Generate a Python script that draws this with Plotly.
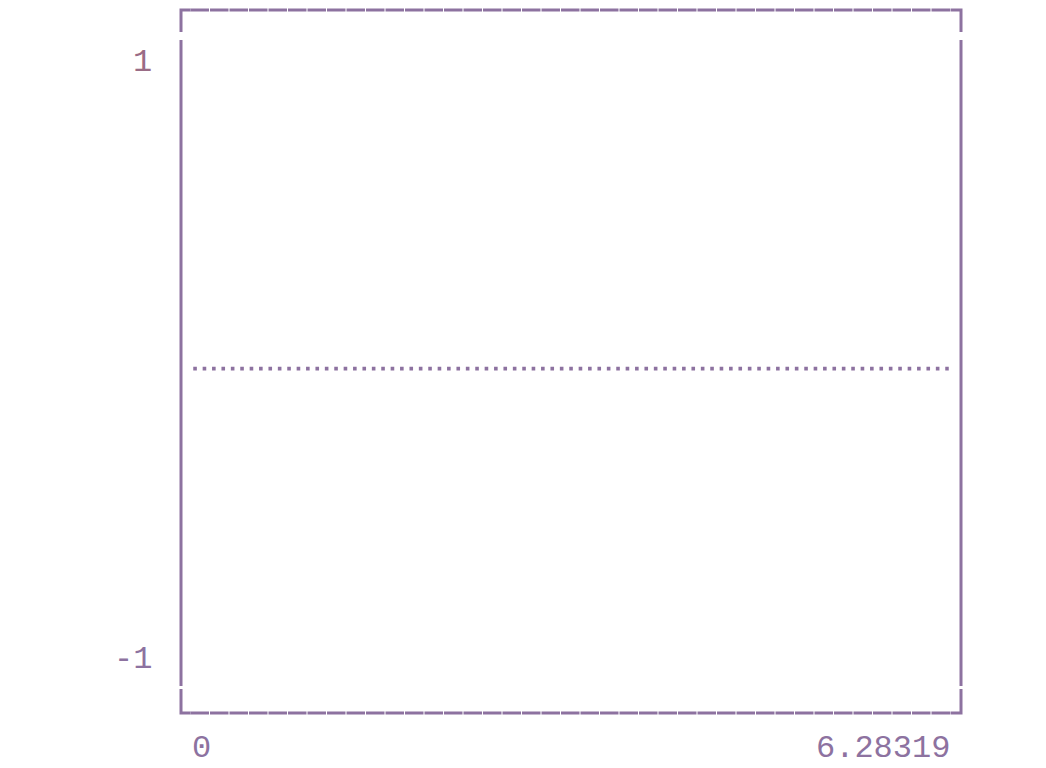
import plotly.graph_objects as go

# line data (value is flat zero over one period)
x_vals = [0, 6.28319]
y_vals = [0, 0]

x_tick_labels = ["0", "6.28319"]
y_tick_vals = [1, -1]
y_tick_labels = ["1", "-1"]

purple = "#8d72a0"
red_purple = "#9a6c86"
mono = "Liberation Mono"

# page body has an 8px margin, so work in page pixels minus 8
OFF = 8
W, H = 1030, 758
L, R, T, B = 181 - OFF, 961 - OFF, 10 - OFF, 713 - OFF  # plot box


def px(p):
    # page pixel -> paper x
    return (p - OFF - L) / (R - L)


def py(p):
    # page pixel -> paper y
    return (B - (p - OFF)) / (B - T)


fig = go.Figure()
fig.add_trace(go.Scatter(
    x=x_vals, y=y_vals, mode="lines",
    line=dict(color=purple, width=3.8, dash="3.6px,5.8px"),
    hoverinfo="skip", showlegend=False,
))

shapes = []
for yy in (10, 713):
    shapes.append(dict(type="line", xref="paper", yref="paper",
                       x0=px(190.5), x1=px(950.5), y0=py(yy), y1=py(yy),
                       line=dict(color=purple, width=3, dash="18.5px,1px")))
# corners
corners = [
    (190.5, 10, 181, 32), (950.5, 10, 961, 32),
    (190.5, 713, 181, 689), (950.5, 713, 961, 689),
]
for hx, hy, vx, vy in corners:
    path = "M %f,%f L %f,%f L %f,%f" % (px(hx), py(hy), px(vx), py(hy), px(vx), py(vy))
    shapes.append(dict(type="path", xref="paper", yref="paper", path=path,
                       line=dict(color=purple, width=3)))
for vx in (181, 961):
    shapes.append(dict(type="line", xref="paper", yref="paper",
                       x0=px(vx), x1=px(vx), y0=py(40), y1=py(686),
                       line=dict(color=purple, width=3)))

annotations = []
# x labels
annotations.append(dict(x=x_vals[0], y=py(748), xref="x", yref="paper",
                        text=x_tick_labels[0], showarrow=False,
                        xanchor="left", yanchor="middle", xshift=-3,
                        font=dict(family=mono, size=32, color=purple)))
annotations.append(dict(x=x_vals[1], y=py(748), xref="x", yref="paper",
                        text=x_tick_labels[1], showarrow=False,
                        xanchor="right", yanchor="middle", xshift=3,
                        font=dict(family=mono, size=32, color=purple)))
# y labels
annotations.append(dict(x=px(154), y=y_tick_vals[0], xref="paper", yref="y",
                        text=y_tick_labels[0], showarrow=False,
                        xanchor="right", yanchor="middle",
                        font=dict(family=mono, size=32, color=red_purple)))
annotations.append(dict(x=px(154), y=y_tick_vals[1], xref="paper", yref="y",
                        text=y_tick_labels[1], showarrow=False,
                        xanchor="right", yanchor="middle", yshift=14.7,
                        font=dict(family=mono, size=32, color=purple)))

fig.update_layout(
    width=W, height=H,
    margin=dict(l=L, r=W - R, t=T, b=H - B, pad=0),
    paper_bgcolor="white", plot_bgcolor="white",
    xaxis=dict(range=[-0.10188, 6.3850], visible=False, fixedrange=True),
    yaxis=dict(range=[-1.1252, 1.1716], visible=False, fixedrange=True),
    shapes=shapes, annotations=annotations,
    showlegend=False,
)

fig.write_html("out.html", config={"displayModeBar": False})
